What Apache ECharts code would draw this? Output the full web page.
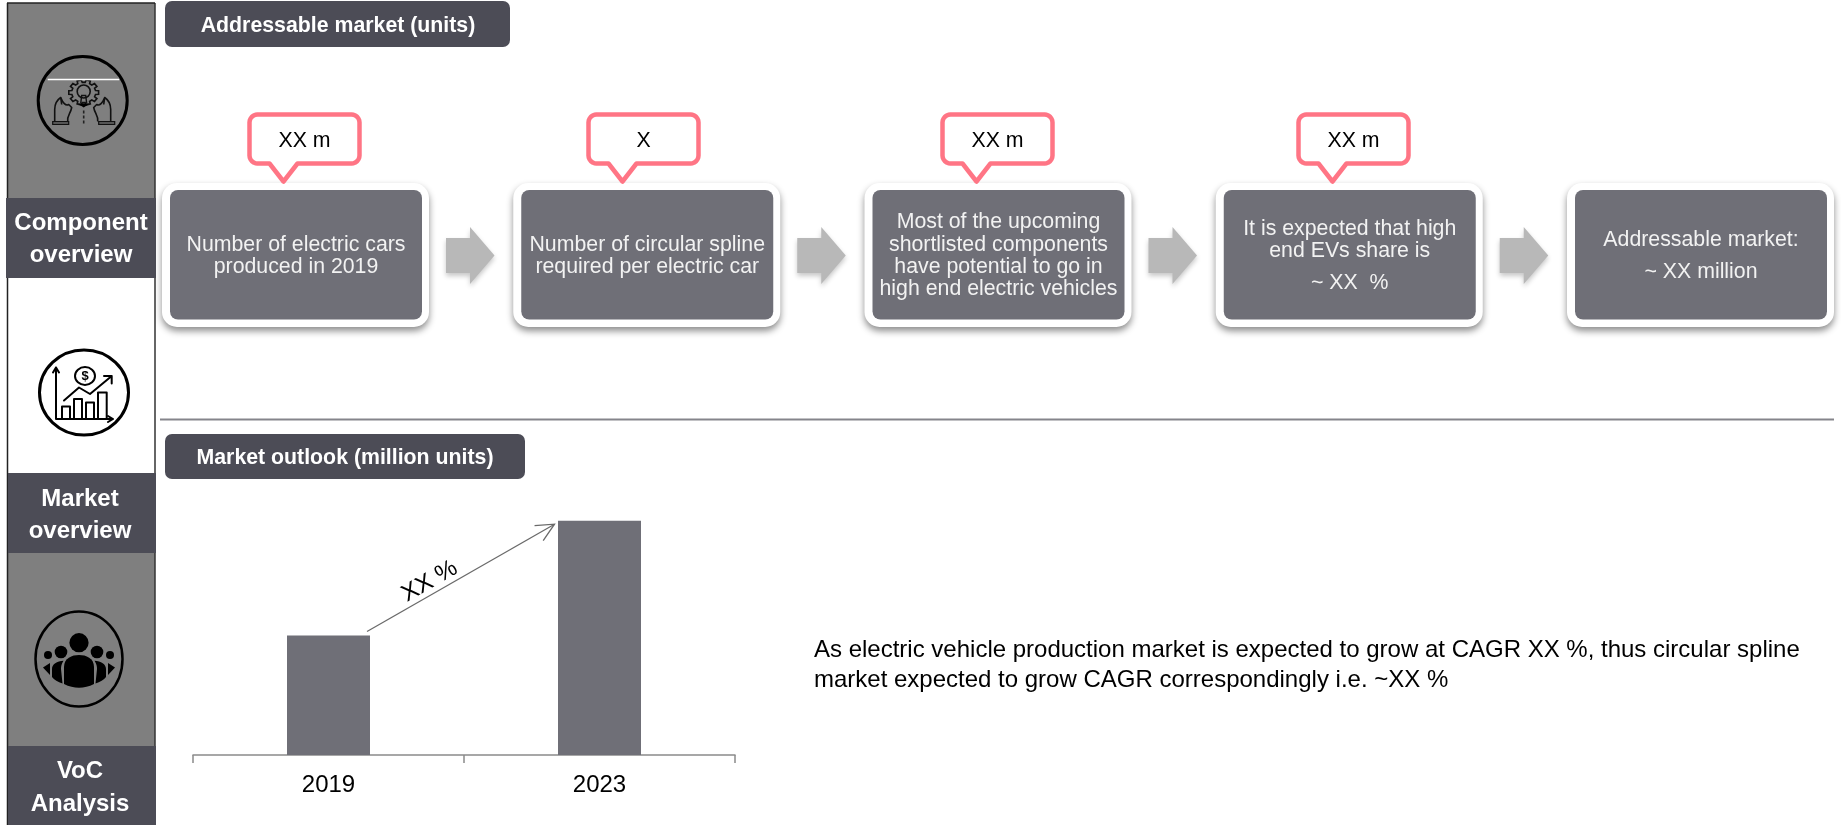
<!DOCTYPE html>
<html>
<head>
<meta charset="utf-8">
<title>Addressable market and market outlook</title>
<style>html,body{margin:0;padding:0;background:#fff}#main{width:1841px;height:825px}</style>
<script src="https://cdn.jsdelivr.net/npm/echarts@6/dist/echarts.min.js"></script>
</head>
<body>
<div id="main"></div>
<script>
// Outlook bars (relative volume, tallest bar = 100)
const years = ['2019', '2023'];
const outlookUnits = [51, 100];
const cagrLabel = 'XX %';

// Addressable-market funnel: callout above each box, box text by paragraph
const calloutTexts = ['XX m', 'X', 'XX m', 'XX m'];
const stepParagraphs = [
  [['Number of electric cars', 'produced in 2019']],
  [['Number of circular spline', 'required per electric car']],
  [['Most of the upcoming', 'shortlisted components', 'have potential to go in', 'high end electric vehicles']],
  [['It is expected that high', 'end EVs share is'], ['~ XX  %']],
  [['Addressable market:'], ['~ XX million']]
];
const sideLabels = [['Component', 'overview'], ['Market', 'overview'], ['VoC', 'Analysis']];
const headers = ['Addressable market (units)', 'Market outlook (million units)'];
const summaryLines = [
  'As electric vehicle production market is expected to grow at CAGR XX %, thus circular spline',
  'market expected to grow CAGR correspondingly i.e. ~XX %'
];

const FONT = '"Liberation Sans", Arial, sans-serif';
const DARK = '#4c4c56', SLATE = '#6f6f77', CORAL = '#ff7585', PANEL = '#7f7f7f';
const chart = echarts.init(document.getElementById('main'));
const g = [];

function rect(x, y, w, h, fill, r, extra) {
  g.push({ type: 'rect', shape: { x, y, width: w, height: h, r: r || 0 }, style: Object.assign({ fill }, extra || {}) });
}
function line(x1, y1, x2, y2, stroke, lineWidth) {
  g.push({ type: 'line', shape: { x1, y1, x2, y2 }, style: { stroke, lineWidth } });
}
function label(text, x, y, size, fill, weight, extra) {
  g.push(Object.assign({
    type: 'text', x, y,
    style: { text, fill, font: (weight || 'normal') + ' ' + size + 'px ' + FONT, textAlign: 'center', textVerticalAlign: 'middle' }
  }, extra || {}));
}

// Left navigation column
rect(8, 3, 147, 195, PANEL);
rect(8, 553, 147, 193, PANEL);
line(7.5, 3, 7.5, 825, '#222', 1.5);
line(155, 3, 155, 825, '#333', 1.5);
line(7, 3, 155, 3, '#222', 1.5);
[[198, 80], [473, 80], [746, 79]].forEach(([y, h], i) => {
  rect(i === 0 ? 6 : 8, y, i === 0 ? 150 : 148, h, DARK);
  const cy = [223, 499, 771][i];
  sideLabels[i].forEach((t, k) => label(t, i === 0 ? 81 : 80, cy + k * [32, 32, 33][i], 24, '#fff', 'bold'));
});

// Section headers and divider
rect(165, 1, 345, 46, DARK, 7);
label(headers[0], 338, 26, 21.3, '#fff', 'bold');
line(160, 419.5, 1834, 419.5, '#85858b', 2);
rect(165, 434, 360, 45, DARK, 7);
label(headers[1], 345, 458, 21.3, '#fff', 'bold');

// Funnel boxes, connector arrows and callouts
const STEP = 351.25;
stepParagraphs.forEach((paras, i) => {
  const x = 162 + STEP * i;
  rect(x, 183, 267, 144, '#fff', 15, { shadowBlur: 7, shadowOffsetY: 4, shadowColor: 'rgba(0,0,0,0.45)' });
  rect(x + 8, 190, 252, 129.5, SLATE, 8);
  const nLines = paras.reduce((n, p) => n + p.length, 0);
  const LH = 22.3, GAP = 9;
  let y = 256 - (nLines * LH + (paras.length - 1) * GAP) / 2 + LH / 2;
  paras.forEach(p => {
    p.forEach(t => { label(t, x + 134, y, 21.3, '#f2f2f2'); y += LH; });
    y += GAP;
  });
  if (i < 4) {
    const ax = 446 + STEP * i;
    g.push({
      type: 'polygon',
      shape: { points: [[ax, 238], [ax + 24, 238], [ax + 24, 227], [ax + 48.5, 255.5], [ax + 24, 284], [ax + 24, 273], [ax, 273]] },
      style: { fill: '#b8b8b8', shadowBlur: 5, shadowOffsetY: 3, shadowColor: 'rgba(0,0,0,0.22)' }
    });
  }
});

const calloutLeft = [247, 586, 940, 1296];
calloutTexts.forEach((t, i) => {
  const l = calloutLeft[i] + 2.5, tipX = l + 34, top = 114.5, bot = 163.5, r = l + 110, c = 8;
  const pts = [];
  // Rounded body drawn as a closed outline with the pointer on the lower edge
  const corner = (cx, cy, a0) => { for (let k = 0; k <= 6; k++) { const a = a0 + k * Math.PI / 12; pts.push([cx + c * Math.cos(a), cy + c * Math.sin(a)]); } };
  corner(l + c, top + c, Math.PI);
  corner(r - c, top + c, -Math.PI / 2);
  corner(r - c, bot - c, 0);
  pts.push([tipX + 14, bot], [tipX, 181.5], [tipX - 14, bot]);
  corner(l + c, bot - c, Math.PI / 2);
  g.push({ type: 'polygon', shape: { points: pts }, style: { fill: '#fff', stroke: CORAL, lineWidth: 4.5, lineJoin: 'round' }, z: 5 });
  label(t, l + 55, 141, 21.3, '#000', 'normal', { z: 6 });
});

// Summary paragraph
summaryLines.forEach((t, i) => {
  g.push({ type: 'text', x: 814, y: 650 + i * 30, style: { text: t, fill: '#000', font: '24px ' + FONT, textAlign: 'left', textVerticalAlign: 'middle' } });
});

// Round pictograms of the navigation column
const S = { stroke: '#000', fill: 'none', lineWidth: 2, lineCap: 'round', lineJoin: 'round' };
const F = { fill: '#000' };
const ring = (cx, cy, r, style) => ({ type: 'circle', shape: { cx, cy, r }, style });
const oval = (cx, cy, rx, ry, style) => ({ type: 'ellipse', shape: { cx, cy, rx, ry }, style });
const path = (d, style) => ({ type: 'path', shape: { pathData: d }, style });

function handPath(m) {
  const X = v => m * v;
  return 'M' + X(-28) + ' 21 L' + X(-28) + ' 9 C' + X(-28) + ' 2 ' + X(-25) + ' -1 ' + X(-22) + ' -3 L' + X(-21) + ' 4 M' + X(-22) + ' -3 C' + X(-20) + ' 2 ' + X(-17) + ' 6 ' + X(-14) + ' 4 L' + X(-11) + ' 7 C' + X(-12) + ' 13 ' + X(-16) + ' 15 ' + X(-15) + ' 21';
}
function gearPath() {
  const d = [];
  for (let k = 0; k < 10; k++) {
    const a = k * Math.PI / 5;
    const pt = (rad, da) => (1 + rad * Math.cos(a + da)).toFixed(1) + ' ' + (-8 + rad * Math.sin(a + da) * 0.85).toFixed(1);
    d.push((k ? 'L' : 'M') + pt(12, -0.2), 'L' + pt(15, -0.14), 'L' + pt(15, 0.14), 'L' + pt(12, 0.2));
  }
  return d.join(' ') + ' Z';
}
const icons = [
  { x: 82.7, y: 100.5, parts: [
    oval(0, 0, 44.5, 44, { stroke: '#000', fill: 'none', lineWidth: 3 }),
    path(gearPath(), { stroke: '#111', fill: 'none', lineWidth: 1.6 }),
    ring(1, -9, 6.5, { stroke: '#111', fill: 'none', lineWidth: 1.6 }),
    path('M-5 3 L7 3 L1 7 Z', F),
    path('M-2 3 L-1 -5 L3 -5 L4 3', { stroke: '#111', fill: 'none', lineWidth: 1.4 }),
    path('M1 10 L1 13 M1 15 L1 18 M1 20 L1 23', { stroke: '#222', fill: 'none', lineWidth: 1.6 }),
    path(handPath(1), { stroke: '#111', fill: 'none', lineWidth: 1.6, lineJoin: 'round' }),
    path(handPath(-1), { stroke: '#111', fill: 'none', lineWidth: 1.6, lineJoin: 'round' }),
    path('M-30 21 L-14 21 L-14 24 L-30 24 Z M16 21 L32 21 L32 24 L16 24 Z', { stroke: '#111', fill: '#555', lineWidth: 1.2 }),
    { type: 'line', shape: { x1: -35, y1: -21, x2: 36.5, y2: -21 }, style: { stroke: '#fff', lineWidth: 1.5 } }
  ] },
  { x: 84, y: 392.5, parts: [
    oval(0, 0, 44.5, 42.5, { stroke: '#000', fill: '#fff', lineWidth: 3 }),
    path('M-28 26.5 L-28 -25 M-31 -20 L-28 -25 L-25 -20 M-28 26.5 L29 26.5 M24 23.5 L29 26.5 L24 29.5', S),
    path('M-22 26.5 L-22 14 L-14 14 L-14 26.5 M-10 26.5 L-10 6.5 L-2 6.5 L-2 26.5 M2 26.5 L2 10 L10 10 L10 26.5 M14 26.5 L14 0 L22.7 0 L22.7 26.5', S),
    path('M-20 8 L-5 -5 L6 1.5 L27.7 -16.5 M20 -16.5 L27.7 -16.5 L27.7 -9', S),
    oval(1, -16.5, 10, 9, { stroke: '#000', fill: '#fff', lineWidth: 2 }),
    { type: 'text', x: 1, y: -16.5, style: { text: '$', fill: '#000', font: 'bold 13px ' + FONT, textAlign: 'center', textVerticalAlign: 'middle' } }
  ] },
  { x: 79, y: 659, parts: [
    oval(0, 0, 43.5, 47.5, { stroke: '#000', fill: 'none', lineWidth: 2.5 }),
    ring(0, -16.3, 9.6, F),
    ring(-18, -7, 6.3, F), ring(18, -7, 6.3, F),
    ring(-31, -4, 4, F), ring(31, -4, 4, F),
    path('M-15 25 L-15 8 C-15 -1 -7 -4 0 -4 C7 -4 15 -1 15 8 L15 25 C5 30 -5 30 -15 25 Z', F),
    path('M-16.5 24.5 C-21 23 -25 21 -27 18 L-27 10 C-27 5 -22 2 -15.5 1.7 C-17.5 5 -18 7 -18 10 Z', F),
    path('M16.5 24.5 C21 23 25 21 27 18 L27 10 C27 5 22 2 15.5 1.7 C17.5 5 18 7 18 10 Z', F),
    path('M-29 16 L-36 8.5 L-29 4 Z', F),
    path('M29 16 L36 8.5 L29 4 Z', F)
  ] }
];

chart.setOption({
  animation: false,
  backgroundColor: '#fff',
  graphic: { elements: g },
  grid: { left: 193, right: 1841 - 735, top: 520.7, bottom: 825 - 755, containLabel: false },
  xAxis: {
    type: 'category',
    data: years,
    axisLine: { lineStyle: { color: '#8a8a8a', width: 1.5 } },
    axisTick: { show: true, alignWithLabel: false, length: 8, lineStyle: { color: '#8a8a8a', width: 1.5 } },
    axisLabel: { color: '#000', fontFamily: FONT, fontSize: 24, margin: 18 }
  },
  yAxis: { type: 'value', min: 0, max: 100, show: false, splitLine: { show: false } },
  series: [
    { name: 'Market outlook', type: 'bar', data: outlookUnits, barWidth: 83, itemStyle: { color: SLATE }, silent: true },
    {
      type: 'custom', coordinateSystem: 'none', silent: true, z: 10,
      data: icons.map((_, i) => i),
      renderItem: (_, api) => {
        const ic = icons[api.value(0)];
        return { type: 'group', x: ic.x, y: ic.y, children: ic.parts };
      }
    }
  ]
});

// CAGR arrow spans from the top of the first bar to the top of the second
const from = chart.convertToPixel({ gridIndex: 0 }, [0, outlookUnits[0]]);
const to = chart.convertToPixel({ gridIndex: 0 }, [1, outlookUnits[1]]);
const start = [from[0] + 38.5, from[1] - 4];
const end = [to[0] - 45, to[1] + 3.5];
const ang = Math.atan2(end[1] - start[1], end[0] - start[0]);
const barb = a => [end[0] - 20 * Math.cos(ang + a), end[1] - 20 * Math.sin(ang + a)];
chart.setOption({
  graphic: {
    elements: g.concat([
      { type: 'line', shape: { x1: start[0], y1: start[1], x2: end[0], y2: end[1] }, style: { stroke: '#6a6a6a', lineWidth: 1.3 } },
      { type: 'polyline', shape: { points: [barb(0.45), end, barb(-0.45)] }, style: { stroke: '#6a6a6a', lineWidth: 1.3, fill: 'none' } },
      {
        type: 'text', x: (start[0] + end[0]) / 2 - 31, y: (start[1] + end[1]) / 2 + 3.5, rotation: -ang,
        style: { text: cagrLabel, fill: '#000', font: '24px ' + FONT, textAlign: 'center', textVerticalAlign: 'middle' }
      }
    ])
  }
});
</script>
</body>
</html>
